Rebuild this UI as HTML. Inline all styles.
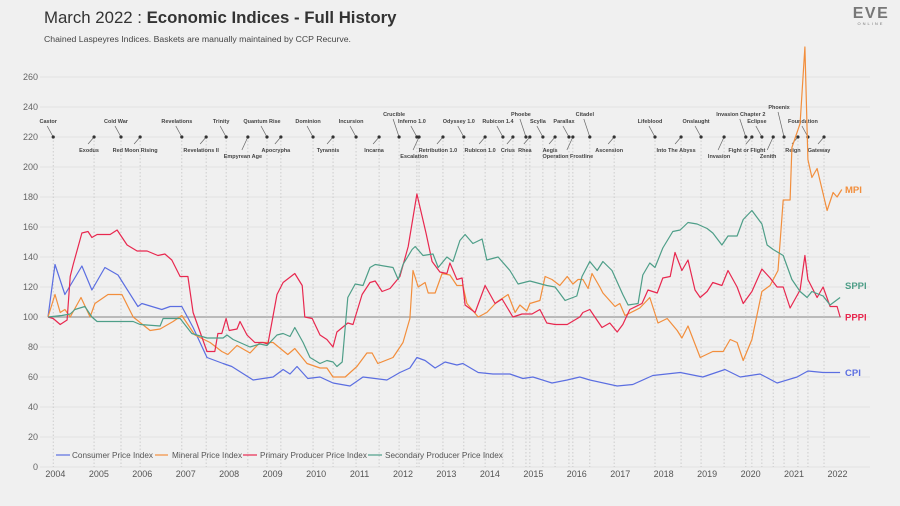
<!DOCTYPE html>
<html><head><meta charset="utf-8"><style>
html,body{margin:0;padding:0;background:#f0f0f0;}
svg{display:block;font-family:"Liberation Sans",sans-serif;}
</style></head><body>
<svg id="chart" width="900" height="506" viewBox="0 0 900 506">
<rect x="0" y="0" width="900" height="506" fill="#f0f0f0"/>
<text x="44" y="23" font-size="16.8" fill="#333"><tspan font-weight="normal">March 2022 : </tspan><tspan font-weight="bold">Economic Indices - Full History</tspan></text>
<text x="44" y="42" font-size="8.7" fill="#444">Chained Laspeyres Indices. Baskets are manually maintained by CCP Recurve.</text>
<g>
<text x="871" y="18" font-size="16" font-weight="bold" fill="#777" text-anchor="middle" letter-spacing="1.5">EVE</text>
<text x="871" y="25" font-size="4" fill="#777" text-anchor="middle" letter-spacing="2">ONLINE</text>
</g>
<g id="grid"></g>
<g id="exp"></g>
<g id="series"></g>
<g id="axes"></g>
<g font-size="8.2" fill="#555">
<line x1="56" y1="455" x2="70" y2="455" stroke="#5b6ee1" stroke-width="1.2"/><text x="72" y="458">Consumer Price Index</text>
<line x1="155" y1="455" x2="168" y2="455" stroke="#f28e3c" stroke-width="1.2"/><text x="172" y="458">Mineral Price Index</text>
<line x1="243" y1="455" x2="257" y2="455" stroke="#e8284f" stroke-width="1.2"/><text x="260" y="458">Primary Producer Price Index</text>
<line x1="368" y1="455" x2="382" y2="455" stroke="#4e9e88" stroke-width="1.2"/><text x="385" y="458">Secondary Producer Price Index</text>
</g>
</svg>
<script>
// data: time offsets in years since Jan 2004, index values
const yTicks=[0,20,40,60,80,100,120,140,160,180,200,220,240,260];
const years=[2004,2005,2006,2007,2008,2009,2010,2011,2012,2013,2014,2015,2016,2017,2018,2019,2020,2021,2022];
const cpiT=[0,.16,.39,.78,1.01,1.31,1.61,2.07,2.16,2.62,2.81,3.08,3.34,3.66,4.03,4.23,4.72,5.18,5.41,5.57,5.73,5.98,6.26,6.56,6.95,7.25,7.80,8.10,8.33,8.49,8.68,8.91,9.14,9.41,9.55,9.90,10.24,10.63,10.93,11.16,11.60,11.95,12.24,12.47,13.10,13.46,13.92,14.55,15.07,15.58,15.93,16.39,16.78,17.24,17.49,17.84,18.23];
const cpiV=[100,135,115,134,118,133,128,107,109,105,107,107,93,73,69,67,58,60,65,62,67,59,60,56,54,60,58,63,66,73,71,66,70,68,69,63,62,62,59,60,56,58,60,58,54,55,61,63,60,65,60,62,56,60,64,63,63];
const mpiT=[0,.16,.28,.39,.51,.76,.97,1.08,1.38,1.70,1.96,2.35,2.58,2.88,3.08,3.38,3.73,4.00,4.14,4.35,4.65,4.88,5.18,5.39,5.52,5.68,5.96,6.26,6.42,6.56,6.84,7.11,7.34,7.46,7.59,7.94,8.17,8.33,8.40,8.52,8.68,8.75,8.91,9.07,9.25,9.41,9.55,9.64,9.90,10.10,10.33,10.59,10.75,10.86,11.02,11.09,11.32,11.44,11.60,11.78,11.95,12.08,12.20,12.31,12.43,12.52,12.70,12.77,13.05,13.16,13.28,13.62,13.85,14.04,14.25,14.48,14.59,14.73,15.01,15.30,15.54,15.70,15.86,16.00,16.20,16.43,16.62,16.80,16.92,17.08,17.12,17.31,17.42,17.49,17.58,17.70,17.93,18.07,18.16,18.27];
const mpiV=[100,115,103,105,100,113,100,109,115,115,100,91,92,97,101,88,83,77,75,81,76,83,83,78,75,79,69,66,66,60,60,67,76,76,69,73,83,99,131,120,123,116,116,129,128,121,121,109,100,103,110,115,103,108,104,109,111,127,125,121,127,122,125,125,119,129,120,116,107,109,101,106,113,96,99,91,86,94,73,77,77,85,83,71,85,117,121,131,178,178,213,229,280,205,193,199,171,183,180,185];
const ppiT=[0,.12,.28,.44,.51,.58,.78,.92,1.01,1.13,1.43,1.59,1.82,2.05,2.28,2.53,2.69,2.85,3.04,3.22,3.34,3.66,3.84,3.91,4.00,4.10,4.17,4.35,4.42,4.58,4.76,4.95,5.06,5.27,5.41,5.68,5.85,5.91,6.08,6.26,6.42,6.56,6.65,6.90,7.02,7.23,7.41,7.53,7.69,7.87,8.10,8.29,8.49,8.70,8.84,9.02,9.18,9.25,9.41,9.53,9.60,9.83,10.06,10.29,10.45,10.70,10.91,11.14,11.32,11.48,11.67,11.95,12.24,12.31,12.47,12.75,12.93,13.10,13.23,13.39,13.67,13.81,14.02,14.15,14.32,14.43,14.59,14.73,14.89,15.01,15.17,15.30,15.51,15.65,15.86,16.00,16.20,16.43,16.62,16.78,16.92,17.08,17.31,17.42,17.49,17.70,17.84,18.00,18.16,18.23];
const ppiV=[100,99,95,98,127,135,156,157,153,155,155,158,148,144,144,141,142,138,127,127,103,77,77,89,89,99,91,92,97,88,83,83,82,115,123,129,121,100,99,88,85,80,90,96,95,115,123,124,117,119,127,147,182,156,137,130,129,136,125,126,108,103,121,109,112,100,102,102,105,96,95,95,100,103,105,93,96,90,95,105,109,118,116,126,127,143,131,138,118,113,117,123,121,131,120,109,117,132,126,120,120,106,118,141,125,113,120,107,107,100];
const spiT=[0,.32,.51,.62,.85,1.01,1.13,1.59,1.96,2.12,2.58,2.65,3.04,3.31,3.66,4.03,4.12,4.26,4.65,4.88,5.04,5.27,5.41,5.57,5.68,5.87,6.03,6.26,6.42,6.56,6.65,6.77,6.90,7.07,7.25,7.41,7.53,7.94,8.06,8.17,8.38,8.45,8.63,8.86,8.98,9.18,9.32,9.48,9.60,9.78,9.99,10.10,10.36,10.63,10.82,11.09,11.48,11.67,11.90,12.17,12.29,12.47,12.64,12.77,12.98,13.23,13.35,13.58,13.69,13.85,13.97,14.15,14.38,14.55,14.73,14.94,15.17,15.30,15.51,15.65,15.86,16.00,16.20,16.43,16.55,16.69,16.92,17.12,17.31,17.47,17.58,17.84,18.00,18.23];
const spiV=[100,101,102,105,107,100,97,97,97,95,94,99,99,89,86,86,88,85,80,82,81,88,89,87,93,83,73,69,71,70,67,70,113,122,121,133,135,133,125,135,145,147,141,142,133,140,137,151,155,149,152,138,140,131,122,124,121,120,111,114,127,137,131,137,131,115,108,109,128,136,133,146,157,158,163,162,159,156,148,154,154,165,171,162,148,145,141,125,117,113,117,114,108,113,110,121,119,121];

const NS='http://www.w3.org/2000/svg';
const X0=48,YW=43.45,Y0=467,YS=1.5;
const xs=t=>X0+t*YW, ys=v=>Y0-v*YS;
function mk(tag,attrs,parent){const e=document.createElementNS(NS,tag);for(const k in attrs)e.setAttribute(k,attrs[k]);parent.appendChild(e);return e;}
const grid=document.getElementById('grid'),axes=document.getElementById('axes'),ser=document.getElementById('series'),exp=document.getElementById('exp');
yTicks.forEach(v=>{
  const l=mk('line',{x1:40,x2:870,y1:ys(v),y2:ys(v),stroke:'#e2e2e2','stroke-width':1},grid);
  
  
  const t=mk('text',{x:38,y:ys(v)+3,'font-size':9,fill:'#666','text-anchor':'end'},axes);
  
  
  t.textContent=v;
});
years.forEach((y,i)=>{
  const t=mk('text',{x:xs(i+0.17),y:477,'font-size':9,fill:'#555','text-anchor':'middle'},axes);
  
  
  t.textContent=y;
});
const base=mk('line',{x1:xs(0),x2:xs(18.25),y1:ys(100),y2:ys(100),stroke:'#999','stroke-width':1.3},grid);



// expansions: name, time offset (years), label y
const expNames=['Castor','Exodus','Cold War','Red Moon Rising','Revelations','Revelations II','Trinity','Empyrean Age','Quantum Rise','Apocrypha','Dominion','Tyrannis','Incursion','Incarna','Crucible','Inferno 1.0','Escalation','Retribution 1.0','Odyssey 1.0','Rubicon 1.0','Rubicon 1.4','Crius','Phoebe','Rhea','Scylla','Aegis','Parallax','Operation Frostline','Citadel','Ascension','Lifeblood','Into The Abyss','Onslaught','Invasion','Invasion Chapter 2','Fight or Flight','Eclipse','Zenith','Phoenix','Reign','Foundation','Gateway'];
const expT=[.12,1.06,1.68,2.12,3.08,3.64,4.10,4.60,5.04,5.36,6.10,6.56,7.09,7.62,8.08,8.49,8.54,9.09,9.57,10.06,10.47,10.70,11.00,11.09,11.39,11.67,11.99,12.08,12.47,13.03,13.97,14.57,15.03,15.56,16.06,16.20,16.43,16.69,16.94,17.26,17.49,17.86];
const expLY=[123,152,123,152,123,152,123,158,123,152,123,152,123,152,116,123,158,152,123,152,123,152,116,152,123,152,123,158,116,152,123,152,123,158,116,152,123,158,109,152,123,152];
expNames.forEach((n,i)=>{
  const x=xs(expT[i]),ly=expLY[i];
  const v=mk('line',{x1:x,x2:x,y1:137,y2:467,stroke:'#c4c4c4','stroke-width':0.8,'stroke-dasharray':'1.5,2'},exp);
  
  
  const above=ly<137;
  const lx=x-5;
  const ld=mk('line',{x1:x,y1:137,x2:lx-1,y2:above?ly+3:ly-8,stroke:'#666','stroke-width':0.7},exp);
  
  
  const d=mk('circle',{cx:x,cy:137,r:1.6,fill:'#333'},exp);
  
  
  const t=mk('text',{x:lx,y:ly,'font-size':5.5,'font-weight':'bold',fill:'#444','text-anchor':'middle'},exp);
  
  
  t.textContent=n;
});

const S=[['cpi',cpiT,cpiV,'#5b6ee1','CPI'],['mpi',mpiT,mpiV,'#f28e3c','MPI'],['pppi',ppiT,ppiV,'#e8284f','PPPI'],['sppi',spiT,spiV,'#4e9e88','SPPI']];
S.forEach(([k,T,V,c,lab])=>{
  const d=T.map((t,i)=>(i?'L':'M')+xs(t).toFixed(1)+','+ys(V[i]).toFixed(1)).join('');
  const p=mk('path',{d:d,fill:'none',stroke:c,'stroke-width':1.2,'stroke-linejoin':'round'},ser);
  
  
  const last=V[V.length-1];
  const t=mk('text',{x:845,y:ys(last)+3.5,'font-size':9.5,'font-weight':'bold',fill:c},ser);
  
  
  t.textContent=lab;
});
</script>
</body></html>
